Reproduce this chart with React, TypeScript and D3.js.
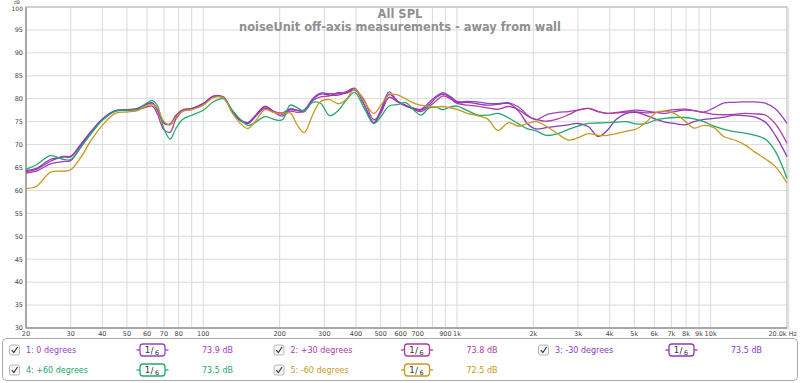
import React from "react";
import * as d3 from "d3";

const freqs = [20,22,25,28,30,33,36,40,45,50,55,60,63,66,70,74,78,83,90,100,110,120,130,140,150,160,175,190,205,220,235,250,270,290,315,340,365,395,430,470,500,540,580,630,680,720,780,830,880,940,1000,1100,1200,1320,1450,1600,1750,1900,2050,2250,2500,2750,3000,3300,3600,3900,4250,4650,5100,5600,6100,6600,7200,7900,8600,9400,10300,11300,12400,13600,15000,16500,18000,20000];

const deg0 = [64.1,64.6,66.4,67.4,67.5,70.2,72.8,75.6,77.4,77.6,77.8,78.8,79.0,77.4,74.6,74.5,76.4,77.6,77.9,79.0,80.6,80.4,77.4,75.4,74.8,76.3,78.4,77.2,76.6,77.6,77.4,77.6,80.0,81.2,81.1,81.1,81.5,82.3,78.8,74.7,77.5,81.5,79.6,78.3,77.9,77.7,79.3,80.6,81.3,80.5,79.4,79.4,79.3,79.0,78.9,79.1,78.2,76.4,75.4,76.5,77.0,77.2,77.5,77.9,77.2,76.8,77.0,77.3,77.5,77.3,77.0,76.8,77.2,77.5,77.4,77.1,78.0,79.1,79.2,79.3,79.3,79.0,77.8,74.6];
const degP30 = [63.8,64.2,65.8,66.3,66.5,69.6,72.4,75.4,77.3,77.5,77.6,78.2,78.4,76.6,73.2,72.7,75.6,77.3,77.7,78.8,80.4,80.2,77.3,75.3,74.6,76.0,77.9,77.0,76.2,77.3,77.0,77.3,79.6,80.4,80.6,81.3,81.2,81.9,79.8,75.4,76.8,80.3,79.4,78.5,77.6,77.2,78.4,79.6,80.6,80.0,79.0,78.6,78.4,78.0,77.7,78.3,77.6,76.2,75.5,75.1,75.6,76.5,77.5,77.9,77.2,76.8,76.9,77.1,77.1,76.9,77.0,77.3,77.6,77.7,77.4,77.0,76.6,76.5,76.6,76.8,76.7,76.4,74.5,70.3];
const degM30 = [64.3,64.8,66.8,67.3,67.3,70.0,72.6,75.5,77.4,77.6,77.9,78.9,79.1,77.6,74.8,74.4,76.2,77.5,77.8,78.9,80.5,80.2,77.2,75.2,74.7,76.2,78.2,77.2,76.9,77.8,77.5,77.2,79.8,81.0,80.8,80.8,81.3,82.1,78.8,74.8,77.0,81.0,79.5,78.5,77.8,77.5,78.8,80.3,81.0,80.3,79.2,79.2,78.9,78.6,78.8,79.0,77.3,74.5,73.4,73.7,74.0,74.3,74.6,73.9,71.8,73.0,75.5,76.8,77.0,76.3,75.5,74.9,74.6,74.3,75.0,75.5,75.7,76.0,76.4,76.3,76.0,74.8,72.0,67.4];
const degP60 = [64.6,65.6,67.6,66.8,66.7,69.5,72.3,75.3,77.3,77.5,77.7,79.1,79.6,78.4,73.4,71.2,73.5,75.5,76.4,77.5,79.4,80.0,77.5,75.5,74.2,74.8,76.1,75.5,75.4,78.6,78.0,77.3,79.2,79.0,76.3,77.4,79.6,81.4,78.0,74.6,76.0,78.4,78.7,79.1,77.4,76.4,78.0,78.1,77.6,78.2,78.4,77.4,76.5,76.4,76.8,75.8,74.5,73.4,73.0,72.0,72.4,73.3,74.0,74.6,74.7,74.8,74.9,75.0,74.5,74.6,75.4,75.7,75.9,75.9,75.6,75.0,74.0,73.3,72.8,72.5,72.0,71.1,68.5,62.6];
const degM60 = [60.4,60.9,64.0,64.2,64.5,67.3,70.8,74.2,76.8,77.1,77.4,78.5,78.8,77.9,75.0,74.3,76.0,77.3,77.6,78.6,80.3,80.2,76.9,74.6,73.5,75.0,77.6,77.0,76.8,76.9,74.2,72.6,76.5,79.4,79.8,78.9,79.8,82.1,79.5,76.8,78.5,80.8,80.9,79.9,79.0,78.6,78.3,78.2,78.3,78.0,77.7,76.8,76.3,75.6,73.1,74.8,74.0,74.6,75.0,74.0,72.3,71.0,71.5,72.4,72.0,72.0,72.4,72.9,73.4,75.0,77.0,77.3,76.8,75.2,73.6,74.2,73.7,71.7,71.0,70.0,68.3,66.8,65.2,61.6];

const seriesNames = ["1: 0 degrees", "2: +30 degrees", "3: -30 degrees", "4: +60 degrees", "5: -60 degrees"];
const seriesLevels = ["73.9 dB", "73.8 dB", "73.5 dB", "73.5 dB", "72.5 dB"];
const seriesColors = ["#9b42c6", "#b13b9e", "#8c3ab8", "#23a86c", "#c49a24"];
const seriesData = [deg0, degP30, degM30, degP60, degM60];

const xTickValues = [20,30,40,50,60,70,80,100,200,300,400,500,600,700,900,1000,2000,3000,4000,5000,6000,7000,8000,9000,10000];
const xTickLabels = ["20","30","40","50","60","70","80","100","200","300","400","500","600","700","900","1k","2k","3k","4k","5k","6k","7k","8k","9k","10k"];
const xGridValues = [30,40,50,60,70,80,90,100,200,300,400,500,600,700,800,900,1000,2000,3000,4000,5000,6000,7000,8000,9000,10000];
const yTickValues = [30,35,40,45,50,55,60,65,70,75,80,85,90,95,100];

const titleLines = ["All SPL", "noiseUnit off-axis measurements - away from wall"];

const W = 800;
const H = 383;
const L = 26, R = 787, T = 7, B = 328;

export default function App() {
  const x = d3.scaleLog().domain([20, 20000]).range([L, R]);
  const y = d3.scaleLinear().domain([30, 100]).range([B, T]);
  const line = d3
    .line<number>()
    .x((_, i) => x(freqs[i]))
    .y((d) => y(d))
    .curve(d3.curveCatmullRom.alpha(0.5));

  const font = "'DejaVu Sans', Verdana, sans-serif";
  const legendCols = [0, 264.5, 529];
  const legendRows = [350, 370];

  return (
    <svg
      width={W}
      height={H}
      viewBox={`0 0 ${W} ${H}`}
      style={{ position: "absolute", left: 0, top: 0, background: "#fff" }}
      fontFamily={font}
    >
      <rect x={0} y={0} width={W} height={H} fill="#fff" />
      {yTickValues.map((v) => (
        <line key={"gy" + v} x1={L} x2={R} y1={y(v)} y2={y(v)} stroke="#dadada" strokeWidth={1} />
      ))}
      {xGridValues.map((v) => (
        <line key={"gx" + v} x1={x(v)} x2={x(v)} y1={T} y2={B} stroke="#dadada" strokeWidth={1} />
      ))}
      <rect x={L} y={T} width={R - L} height={B - T} fill="none" stroke="#b8b8b8" strokeWidth={1} />
      <line x1={L} x2={L} y1={T} y2={B} stroke="#9a9a9a" strokeWidth={1.6} />
      <line x1={L} x2={R} y1={B} y2={B} stroke="#9a9a9a" strokeWidth={1.4} />
      <line x1={R + 1.5} x2={R + 1.5} y1={T + 1} y2={B + 1} stroke="#e2e2e2" strokeWidth={1.5} />

      <text x={400} y={18} textAnchor="middle" fontSize={11.5} fontWeight="bold" fill="#909090">
        {titleLines[0]}
      </text>
      <text x={400} y={30.5} textAnchor="middle" fontSize={11.4} fontWeight="bold" fill="#909090">
        {titleLines[1]}
      </text>

      <text x={17} y={4.2} textAnchor="middle" fontSize={4.8} fill="#555">dB</text>
      {yTickValues.map((v) => (
        <text key={"ty" + v} x={23} y={y(v) + (v === 100 ? 4 : 2.3)} textAnchor="end" fontSize={v === 100 ? 6 : 6.5} fill="#444">
          {v}
        </text>
      ))}

      {xTickValues.map((v, i) => (
        <text key={"tx" + v} x={x(v)} y={336} textAnchor="middle" fontSize={6.5} fill="#444">
          {xTickLabels[i]}
        </text>
      ))}
      <text x={797} y={336} textAnchor="end" fontSize={6.5} fill="#444">20.0k Hz</text>

      <g>
        {seriesData.map((s, i) => (
          <path
            key={"s" + i}
            d={line(s) || ""}
            fill="none"
            stroke={seriesColors[i]}
            strokeWidth={1.3}
            strokeLinejoin="round"
          />
        ))}
      </g>

      <rect x={2.5} y={338.5} width={795} height={42} rx={4} fill="#fff" stroke="#aaa" strokeWidth={1} />
      {seriesNames.map((name, i) => {
        const col = legendCols[i % 3];
        const ry = legendRows[Math.floor(i / 3)];
        const c = seriesColors[i];
        const bx = 152.5 + col;
        return (
          <g key={"lg" + i}>
            <rect x={9.5 + col} y={ry - 5} width={10} height={10} rx={2} fill="#f6f6f6" stroke="#a8a8a8" strokeWidth={0.8} />
            <path
              d={`M${11.8 + col},${ry + 0.2} L${13.8 + col},${ry + 2.6} L${17.6 + col},${ry - 3}`}
              fill="none"
              stroke="#333"
              strokeWidth={1.1}
            />
            <text x={26 + col} y={ry + 3} fontSize={8} fill={c}>{name}</text>
            <line x1={bx - 16} x2={bx - 12.5} y1={ry} y2={ry} stroke={c} strokeWidth={1.3} />
            <line x1={bx + 12.5} x2={bx + 16} y1={ry} y2={ry} stroke={c} strokeWidth={1.3} />
            <rect x={bx - 12.5} y={ry - 6} width={25} height={12} rx={3} fill="#fff" stroke={c} strokeWidth={1.3} />
            <text x={bx - 5} y={ry + 3} fontSize={8.5} fill="#333" textAnchor="middle">1</text>
            <text x={bx - 0.5} y={ry + 3.5} fontSize={9} fill="#333" textAnchor="middle">/</text>
            <text x={bx + 4.5} y={ry + 4.5} fontSize={6.5} fill="#333" textAnchor="middle">6</text>
            <text x={217.5 + col} y={ry + 3} fontSize={8} fill={c} textAnchor="middle">{seriesLevels[i]}</text>
          </g>
        );
      })}
    </svg>
  );
}
